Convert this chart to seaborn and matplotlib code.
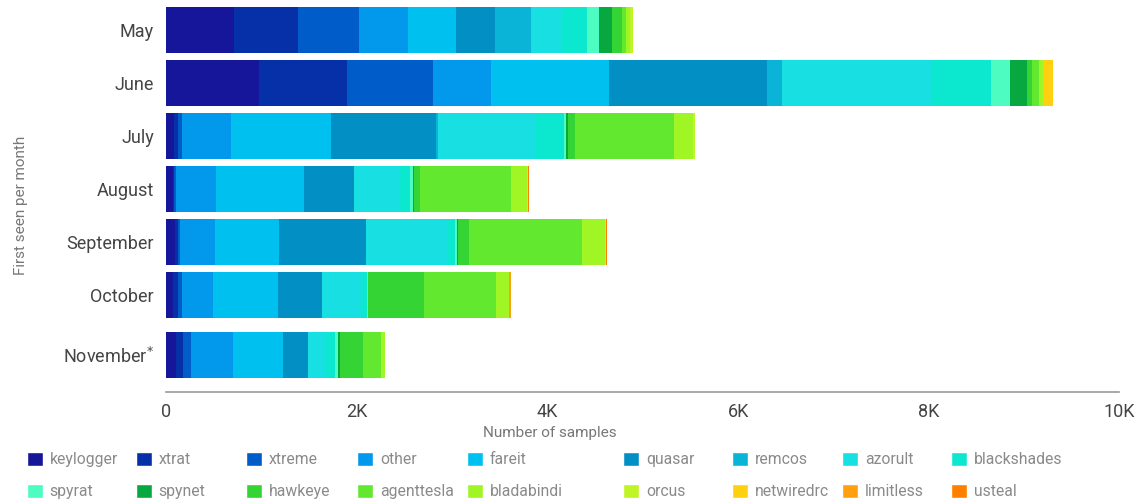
import pandas as pd
import seaborn as sns
import matplotlib.pyplot as plt
from matplotlib.patches import Patch

# malware families, stacked left to right
families = ["keylogger", "xtrat", "xtreme", "other", "fareit", "quasar", "remcos", "azorult",
            "blackshades", "spyrat", "spynet", "hawkeye", "agenttesla", "bladabindi", "orcus",
            "netwiredrc", "limitless", "usteal"]
colors = ["#15169a", "#0630a8", "#005cc8", "#0299ec", "#00c0f0", "#0290c4", "#0ab4d6", "#18e0e2",
          "#0ce8d0", "#4dfcc0", "#08a840", "#33d433", "#63e830", "#a0f525", "#c0f525",
          "#ffd010", "#ffa010", "#ff7f00"]

months = ["May", "June", "July", "August", "September", "October", "November$^{*}$"]
month_pos = [0, 1, 2, 3, 4, 5, 6.13]

# samples per family, one list per month (same order as families)
may = [713, 672, 640, 514, 504, 409, 378, 325, 263, 126, 136, 105, 42, 42, 31, 0, 0, 0]
june = [970, 923, 903, 608, 1239, 1658, 157, 1574, 620, 199, 179, 52, 74, 42, 0, 105, 0, 0]
july = [80, 42, 42, 514, 1050, 1101, 21, 1018, 304, 21, 21, 73, 1039, 200, 21, 0, 0, 0]
august = [68, 11, 21, 419, 924, 524, 0, 483, 105, 31, 11, 63, 955, 168, 10, 0, 0, 11]
september = [89, 32, 21, 367, 671, 913, 0, 850, 84, 21, 10, 116, 1191, 241, 11, 0, 0, 10]
october = [68, 53, 42, 325, 682, 462, 0, 409, 63, 10, 0, 588, 755, 137, 0, 0, 21, 0]
november = [100, 73, 84, 441, 524, 263, 0, 189, 94, 32, 21, 241, 189, 42, 0, 0, 0, 0]

df = pd.DataFrame([may, june, july, august, september, october, november], columns=families)
df["pos"] = month_pos
cum = df[families].cumsum(axis=1)
cum["pos"] = month_pos

sns.set_theme(style="white")
plt.rcParams["font.family"] = ["Roboto", "DejaVu Sans"]

fig = plt.figure(figsize=(11.35, 5.01), dpi=100)
ax = fig.add_axes([166.3 / 1135, 1 - 392 / 501, 953 / 1135, 392 / 501])

# draw totals first, then smaller cumulative sums on top -> stacked look
for fam, col in reversed(list(zip(families, colors))):
    sns.barplot(data=cum, x=fam, y="pos", orient="y", native_scale=True, color=col,
                saturation=1, width=0.87, errorbar=None, linewidth=0, ax=ax)

ax.set_xlim(0, 10000)
ax.set_ylim(6.83, -0.566)
ax.set_xticks([0, 2000, 4000, 6000, 8000, 10000])
ax.set_xticklabels(["0", "2K", "4K", "6K", "8K", "10K"])
ax.set_yticks(month_pos)
ax.set_yticklabels(months)
ax.tick_params(axis="x", direction="in", length=8, width=1.2, color="#9a9a9a",
               labelsize=13, labelcolor="#444444", pad=8)
ax.tick_params(axis="y", length=0, labelsize=13, labelcolor="#444444", pad=9)
sns.despine(ax=ax, left=True)
ax.spines["bottom"].set_color("#9a9a9a")
ax.spines["bottom"].set_linewidth(1.2)

ax.set_xlabel("Number of samples", fontsize=11, color="#777777")
ax.xaxis.set_label_coords(0.402, -0.088)
ax.set_ylabel("First seen per month", fontsize=11, color="#777777")
ax.yaxis.set_label_coords(-0.145, 0.477)

# legend: 9 columns, 2 rows, row-major order
col_x = [27, 136, 246, 357, 467, 623, 732, 842, 951]
for i, x in enumerate(col_x):
    handles = [Patch(facecolor=colors[i], label=families[i]),
               Patch(facecolor=colors[i + 9], label=families[i + 9])]
    fig.legend(handles=handles, loc="upper left", bbox_to_anchor=(x / 1135, 1 - 452 / 501),
               frameon=False, fontsize=11.3, labelcolor="#8a8a8a", handlelength=1.0,
               handleheight=1.0, handletextpad=0.45, labelspacing=1.05,
               borderpad=0, borderaxespad=0)

fig.savefig("out.png", dpi=100)
